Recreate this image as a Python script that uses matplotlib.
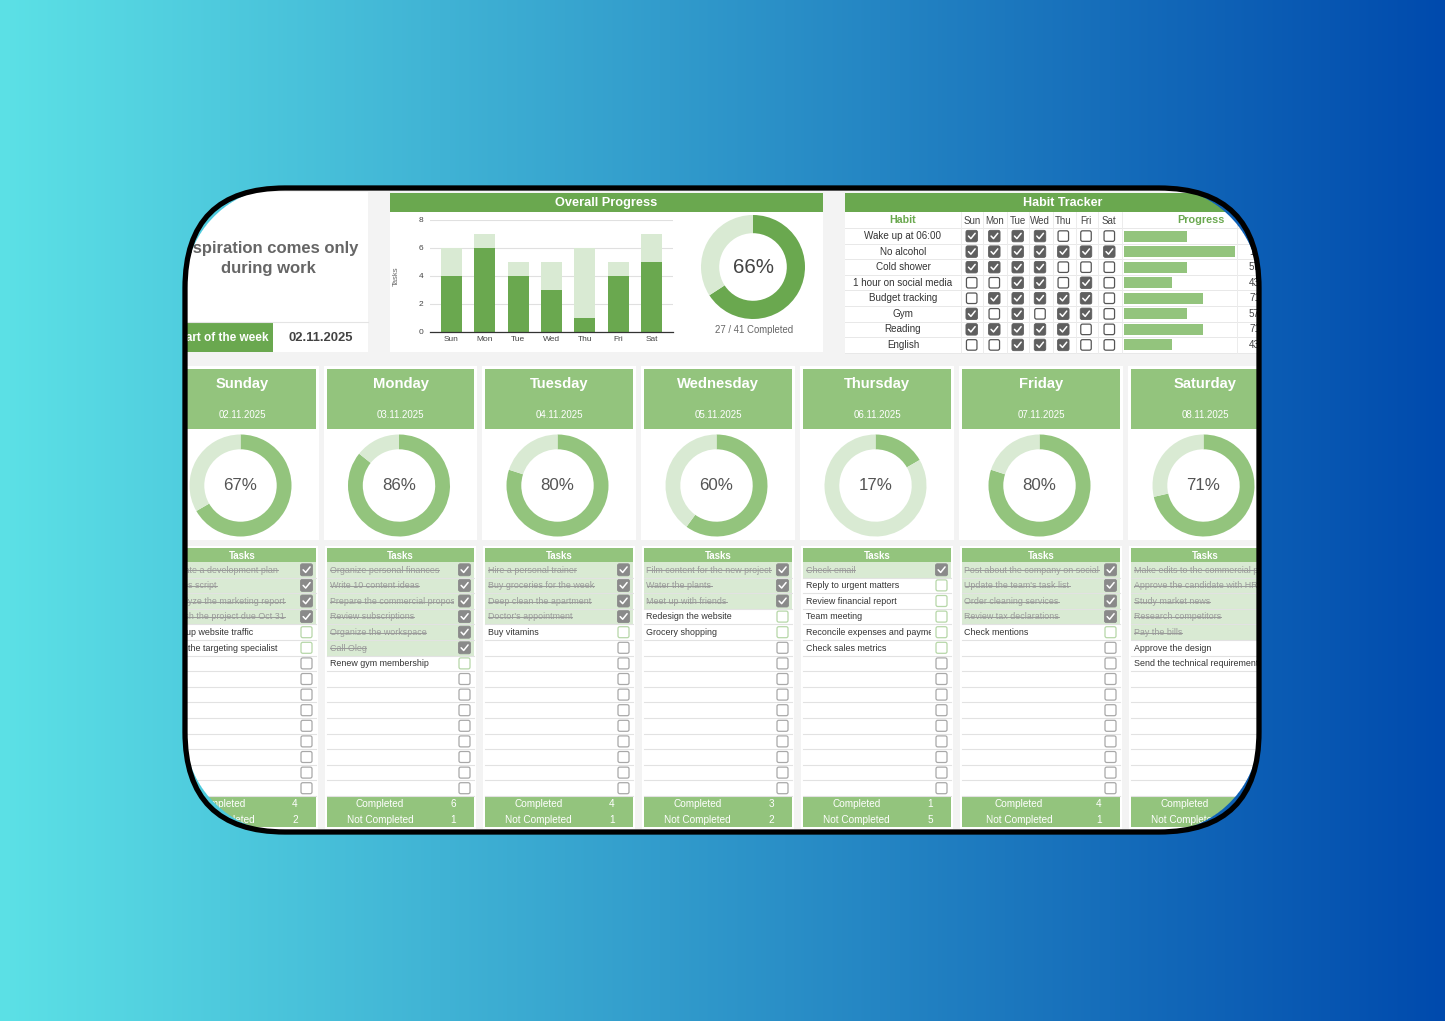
import numpy as np
import matplotlib
matplotlib.use("Agg")
import matplotlib.pyplot as plt
from matplotlib.patches import Rectangle, FancyBboxPatch
from matplotlib.transforms import Bbox

W, H = 1445, 1021
plt.rcParams['font.family'] = ['Liberation Sans', 'DejaVu Sans']

# ---------------- data ----------------
days_short = ['Sun', 'Mon', 'Tue', 'Wed', 'Thu', 'Fri', 'Sat']
days_long = ['Sunday', 'Monday', 'Tuesday', 'Wednesday', 'Thursday', 'Friday', 'Saturday']
dates = ['02.11.2025', '03.11.2025', '04.11.2025', '05.11.2025', '06.11.2025', '07.11.2025', '08.11.2025']
completed = [4, 6, 4, 3, 1, 4, 5]
not_completed = [2, 1, 1, 2, 5, 1, 2]
day_pct = [67, 86, 80, 60, 17, 80, 71]
overall_pct = 66

habits = ['Wake up at 06:00', 'No alcohol', 'Cold shower', '1 hour on social media',
          'Budget tracking', 'Gym', 'Reading', 'English']
habit_checks = [
    [1, 1, 1, 1, 0, 0, 0],
    [1, 1, 1, 1, 1, 1, 1],
    [1, 1, 1, 1, 0, 0, 0],
    [0, 0, 1, 1, 0, 1, 0],
    [0, 1, 1, 1, 1, 1, 0],
    [1, 0, 1, 0, 1, 1, 0],
    [1, 1, 1, 1, 1, 0, 0],
    [0, 0, 1, 1, 1, 0, 0],
]
habit_progress = [57, 100, 57, 43, 71, 57, 71, 43]

tasks_done = [
    ['Create a development plan', 'Sales script', 'Analyze the marketing report', 'Finish the project due Oct 31'],
    ['Organize personal finances', 'Write 10 content ideas', 'Prepare the commercial proposal',
     'Review subscriptions', 'Organize the workspace', 'Call Oleg'],
    ['Hire a personal trainer', 'Buy groceries for the week', 'Deep clean the apartment', "Doctor's appointment"],
    ['Film content for the new project', 'Water the plants', 'Meet up with friends'],
    ['Check email'],
    ['Post about the company on social', "Update the team's task list", 'Order cleaning services',
     'Review tax declarations'],
    ['Make edits to the commercial proposal', 'Approve the candidate with HR', 'Study market news',
     'Research competitors', 'Pay the bills'],
]
tasks_open = [
    ['Set up website traffic', 'Call the targeting specialist'],
    ['Renew gym membership'],
    ['Buy vitamins'],
    ['Redesign the website', 'Grocery shopping'],
    ['Reply to urgent matters', 'Review financial report', 'Team meeting',
     'Reconcile expenses and payments', 'Check sales metrics'],
    ['Check mentions'],
    ['Approve the design', 'Send the technical requirements'],
]

# ---------------- colours ----------------
DARK_G = '#6aa84f'
MID_G = '#93c47d'
LIGHT_G = '#d9ead3'
BG = '#f3f3f3'


def px(x, y, w, h):
    return [x / W, 1 - (y + h) / H, w / W, h / H]


def clipbox(x0, y0, x1, y1):
    return Bbox.from_extents(x0, H - y1, x1, H - y0)


fig = plt.figure(figsize=(W / 100, H / 100), dpi=100)
ax = fig.add_axes([0, 0, 1, 1], zorder=0)
ax.set_xlim(0, W)
ax.set_ylim(H, 0)
ax.axis('off')

ax.add_patch(Rectangle((0, 0), W, H, fc=BG, ec='none'))


def checkbox(x, y, s, checked, fc_checked='#777777', ec='#999999'):
    if checked:
        ax.add_patch(FancyBboxPatch((x - s / 2, y - s / 2), s, s,
                                    boxstyle='round,pad=0,rounding_size=1.8',
                                    fc=fc_checked, ec=fc_checked, lw=0.6))
        ax.plot([x - 0.28 * s, x - 0.07 * s, x + 0.3 * s],
                [y + 0.0 * s, y + 0.22 * s, y - 0.24 * s],
                color='white', lw=1.1, solid_capstyle='round', solid_joinstyle='round')
    else:
        ax.add_patch(FancyBboxPatch((x - s / 2 + 0.5, y - s / 2 + 0.5), s - 1, s - 1,
                                    boxstyle='round,pad=0,rounding_size=1.8',
                                    fc='white', ec=ec, lw=0.9))


# ---------------- left panel ----------------
ax.add_patch(Rectangle((140, 192), 228, 160, fc='white', ec='none'))
ax.plot([140, 368], [322, 322], color='#e4e4e4', lw=0.8)
ax.add_patch(Rectangle((140, 323), 133, 29, fc=DARK_G, ec='none'))
ax.text(268, 337.5, 'Start of the week', ha='right', va='center', color='white',
        fontsize=8.5, fontweight='bold')
ax.text(321, 337.5, dates[0], ha='center', va='center', color='#434343',
        fontsize=9.4, fontweight='bold')
ax.text(268, 248, 'Inspiration comes only', ha='center', va='center', color='#666666',
        fontsize=12, fontweight='bold')
ax.text(268, 268, 'during work', ha='center', va='center', color='#666666',
        fontsize=12, fontweight='bold')

# ---------------- overall progress panel ----------------
ax.add_patch(Rectangle((390, 211), 433, 141, fc='white', ec='none'))
ax.add_patch(Rectangle((390, 193), 433, 18.5, fc=DARK_G, ec='none'))
ax.text(606, 202.5, 'Overall Progress', ha='center', va='center', color='white',
        fontsize=9.2, fontweight='bold')
ax.text(754, 330, f'{sum(completed)} / {sum(completed) + sum(not_completed)} Completed',
        ha='center', va='center', color='#666666', fontsize=6.9)

# ---------------- habit tracker panel ----------------
hx_cols = [971.7, 994.3, 1017.7, 1040, 1063.3, 1086, 1109.3]
h_vlines = [960.7, 983.3, 1006.7, 1029.3, 1053.3, 1076, 1098.3, 1121.7, 1236.7]
h_top = 228.3
h_row = 15.55
ax.add_patch(Rectangle((845, 211), 450, 142, fc='white', ec='none'))
ax.add_patch(Rectangle((845, 193), 450, 18.5, fc=DARK_G, ec='none'))
ax.text(1062.5, 202.5, 'Habit Tracker', ha='center', va='center', color='white',
        fontsize=9, fontweight='bold')
ax.text(903, 220, 'Habit', ha='center', va='center', color=DARK_G, fontsize=7.7, fontweight='bold')
ax.text(1201, 220, 'Progress', ha='center', va='center', color=DARK_G, fontsize=7.8, fontweight='bold')
for xc, d in zip(hx_cols, days_short):
    ax.text(xc, 220.5, d, ha='center', va='center', color='#444444', fontsize=7)
for i in range(len(habits) + 1):
    yy = h_top + h_row * i
    ax.plot([845, 1295], [yy, yy], color='#e8e8e8', lw=0.7)
for xv in h_vlines:
    ax.plot([xv, xv], [212, 353], color='#ececec', lw=0.7)
for i, (name, checks, prog) in enumerate(zip(habits, habit_checks, habit_progress)):
    yc = h_top + h_row * (i + 0.5)
    ax.text(903, yc, name, ha='center', va='center', color='#333333', fontsize=7.1)
    for xc, c in zip(hx_cols, checks):
        checkbox(xc, yc, 11.5, c, fc_checked='#5f5f5f', ec='#555555')
    ax.text(1249, yc, f'{prog}%', ha='left', va='center', color='#444444', fontsize=7.1)

# ---------------- day columns ----------------
col_left = [168, 327, 485, 644, 803, 962, 1131]
col_right = [316, 474, 633, 792, 951, 1120, 1279]
row_top = 562
row_h = 15.6
n_rows = 15
strike_items = []

for i in range(7):
    L, R = col_left[i], col_right[i]
    w = R - L
    cx = (L + R) / 2
    # top card
    ax.add_patch(Rectangle((L - 3, 366), w + 6, 174, fc='white', ec='none'))
    ax.add_patch(Rectangle((L, 369), w, 60, fc=MID_G, ec='none'))
    ax.text(cx, 384, days_long[i], ha='center', va='center', color='white',
            fontsize=10.6, fontweight='bold')
    ax.text(cx, 415, dates[i], ha='center', va='center', color='white', fontsize=7)
    # tasks card
    ax.add_patch(Rectangle((L - 2, 546), w + 4, 283, fc='white', ec='none'))
    ax.add_patch(Rectangle((L, 548), w, 14, fc=MID_G, ec='none'))
    ax.text(cx, 555.5, 'Tasks', ha='center', va='center', color='white',
            fontsize=7, fontweight='bold')
    done = tasks_done[i]
    opn = tasks_open[i]
    for r in range(n_rows):
        top = row_top + row_h * r
        yc = top + row_h / 2
        is_done = r < len(done)
        is_open = (not is_done) and r < len(done) + len(opn)
        if is_done:
            ax.add_patch(Rectangle((L, top), w, row_h, fc=LIGHT_G, ec='none'))
        ax.plot([L, R], [top + row_h, top + row_h], color='#e2e2e2', lw=0.8)
        cb = clipbox(L, top, R - 20, top + row_h)
        if is_done or is_open:
            label = done[r] if is_done else opn[r - len(done)]
            t = ax.text(L + 2.5, yc + 0.3, label, ha='left', va='center',
                        color='#9a9a9a' if is_done else '#333333', fontsize=6.4,
                        clip_on=True)
            t.set_clip_box(cb)
            if is_done:
                strike_items.append((t, yc + 0.6, cb))
        if is_done:
            checkbox(R - 9.5, yc, 12, True, fc_checked='#8a8a8a')
        elif is_open:
            checkbox(R - 9.5, yc, 12, False, ec='#b6d7a8')
        else:
            checkbox(R - 9.5, yc, 12, False, ec='#a8a8a8')
    # footer
    ax.add_patch(Rectangle((L, 796), w, 31, fc=MID_G, ec='none'))
    ax.text(L + 0.36 * w, 804, 'Completed', ha='center', va='center', color='white', fontsize=7.2)
    ax.text(L + 0.36 * w, 819.5, 'Not Completed', ha='center', va='center', color='white', fontsize=7.2)
    ax.text(R - 21, 804, str(completed[i]), ha='center', va='center', color='white', fontsize=7.2)
    ax.text(R - 21, 819.5, str(not_completed[i]), ha='center', va='center', color='white', fontsize=7.2)

# strikethrough lines
renderer = fig.canvas.get_renderer()
inv = ax.transData.inverted()
for t, ys, cb in strike_items:
    bb = t.get_window_extent(renderer=renderer)
    x0 = inv.transform((bb.x0, bb.y0))[0]
    x1 = inv.transform((bb.x1, bb.y0))[0]
    ln, = ax.plot([x0, x1], [ys, ys], color='#9a9a9a', lw=0.7)
    ln.set_clip_box(cb)

# ---------------- bar chart ----------------
axb = fig.add_axes(px(430, 220, 243, 111.7), zorder=1)
xs = np.arange(len(days_short))
axb.bar(xs, completed, width=0.63, color=DARK_G, zorder=3)
axb.bar(xs, not_completed, bottom=completed, width=0.63, color=LIGHT_G, zorder=3)
axb.set_xlim(-0.645, 6.645)
axb.set_ylim(0, 8)
axb.set_yticks([0, 2, 4, 6, 8])
axb.set_xticks(xs)
axb.set_xticklabels(days_short)
axb.patch.set_visible(False)
for s in ['left', 'top', 'right']:
    axb.spines[s].set_visible(False)
axb.spines['bottom'].set_color('#333333')
axb.spines['bottom'].set_linewidth(0.9)
axb.spines['bottom'].set_zorder(4)
axb.grid(axis='y', color='#e0e0e0', lw=0.8, zorder=0)
axb.tick_params(length=0, labelsize=6, colors='#444444', pad=3)
axb.tick_params(axis='y', pad=5)
axb.set_ylabel('Tasks', fontsize=5.5, color='#666666')
axb.yaxis.set_label_coords(-30 / 243, 0.5)


# ---------------- donuts ----------------
def donut(cx, cy, r, vals, colors, width, label, fs, tcolor):
    a = fig.add_axes(px(cx - r, cy - r, 2 * r, 2 * r), zorder=1)
    a.pie(vals, colors=colors, startangle=90, counterclock=False,
          wedgeprops=dict(width=width, edgecolor='none'))
    a.set_xlim(-1, 1)
    a.set_ylim(-1, 1)
    a.set_aspect('auto')
    a.axis('off')
    a.text(0, 0, label, ha='center', va='center', fontsize=fs, color=tcolor)


donut(753, 267, 52, [sum(completed), sum(not_completed)], [DARK_G, LIGHT_G], 0.35,
      f'{overall_pct}%', 14.8, '#444444')
for i in range(7):
    cx = (col_left[i] + col_right[i]) / 2 - 1.5
    donut(cx, 485.5, 51, [completed[i], not_completed[i]], [MID_G, LIGHT_G], 0.29,
          f'{day_pct[i]}%', 12.2, '#555555')

# ---------------- habit progress bars ----------------
axh = fig.add_axes(px(1124, h_top, 111, h_row * len(habits)), zorder=1)
axh.barh(np.arange(len(habits)), habit_progress, height=0.7, color=MID_G)
axh.set_xlim(0, 100)
axh.set_ylim(len(habits) - 0.5, -0.5)
axh.axis('off')

# ---------------- outer gradient with rounded window ----------------
fx0, fy0, fw, fh, rad = 185, 188, 1074, 644, 100
jj, ii = np.meshgrid(np.arange(W) + 0.5, np.arange(H) + 0.5)
c0 = np.array([0x5c, 0xe1, 0xe6]) / 255.0
c1 = np.array([0x00, 0x4a, 0xad]) / 255.0
tt = (jj / W)[..., None]
rgb = c0 * (1 - tt) + c1 * tt
ccx, ccy = fx0 + fw / 2, fy0 + fh / 2
qx = np.abs(jj - ccx) - (fw / 2 - rad)
qy = np.abs(ii - ccy) - (fh / 2 - rad)
dist = np.hypot(np.maximum(qx, 0), np.maximum(qy, 0)) + np.minimum(np.maximum(qx, qy), 0) - rad
alpha = np.clip(dist + 0.5, 0, 1)
img = np.dstack([rgb, alpha]).astype(np.float32)

axo = fig.add_axes([0, 0, 1, 1], zorder=10)
axo.imshow(img, extent=(0, W, H, 0), interpolation='nearest', aspect='auto')
axo.set_xlim(0, W)
axo.set_ylim(H, 0)
axo.axis('off')
axo.add_patch(FancyBboxPatch((fx0, fy0), fw, fh, boxstyle=f'round,pad=0,rounding_size={rad}',
                             fc='none', ec='black', lw=3.8))

fig.savefig('out.png', dpi=100)
